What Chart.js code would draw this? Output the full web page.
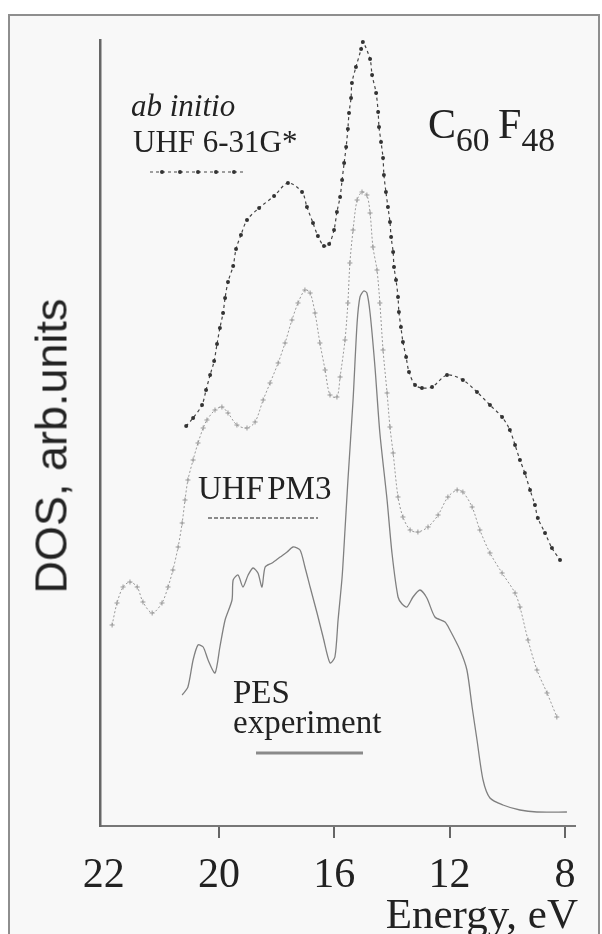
<!DOCTYPE html>
<html>
<head>
<meta charset="utf-8">
<script src="https://cdn.jsdelivr.net/npm/chart.js@4.4.0/dist/chart.umd.min.js"></script>
<style>
  body { margin: 0; background: #fff; width: 602px; height: 934px; overflow: hidden; position: relative; }
  #frame { position: absolute; left: 8px; top: 14px; width: 588px; height: 940px;
           border: 2px solid #8e8e8e; background: #f8f8f8; }
  #chart { position: absolute; left: 0; top: 0; }
  .lbl { position: absolute; font-family: "Liberation Serif", "Times New Roman", serif;
         color: #222; line-height: 1; white-space: nowrap; }
  .lbl sub { font-size: 0.8em; vertical-align: -0.38em; }
  .ytitle { position: absolute; left: 51px; top: 446px; transform: translate(-50%, -50%) rotate(-90deg);
            font-family: "Liberation Sans", Arial, sans-serif; font-size: 45px; color: #222;
            line-height: 1; white-space: nowrap; }
  .sample { position: absolute; }
</style>
</head>
<body>
<div id="frame"></div>
<canvas id="chart" width="602" height="934"></canvas>

<div class="ytitle">DOS, arb.units</div>
<div class="lbl" style="right:24px; top:892px; font-size:43px;">Energy, eV</div>

<div class="lbl" style="left:131px; top:90px; font-size:31px; font-style:italic;">ab initio</div>
<div class="lbl" style="left:133px; top:126px; font-size:31px;">UHF 6-31G*</div>
<svg class="sample" style="left:150px; top:168px;" width="96" height="8">
  <line x1="0" y1="4" x2="96" y2="4" stroke="#444" stroke-width="1.2" stroke-dasharray="3,3"/>
  <circle cx="12" cy="4" r="2" fill="#333"/><circle cx="30" cy="4" r="2" fill="#333"/>
  <circle cx="48" cy="4" r="2" fill="#333"/><circle cx="66" cy="4" r="2" fill="#333"/>
  <circle cx="84" cy="4" r="2" fill="#333"/>
</svg>
<div class="lbl" style="left:428px; top:103px; font-size:42px;">C<sub>60</sub>&thinsp;F<sub>48</sub></div>

<div class="lbl" style="left:198px; top:472px; font-size:33px; word-spacing:-5px;">UHF PM3</div>
<svg class="sample" style="left:208px; top:515px;" width="110" height="6">
  <line x1="0" y1="3" x2="110" y2="3" stroke="#8a8a8a" stroke-width="2" stroke-dasharray="4,2"/>
</svg>

<div class="lbl" style="left:233px; top:677px; font-size:33px; line-height:30px;">PES<br>experiment</div>
<svg class="sample" style="left:256px; top:750px;" width="107" height="6">
  <line x1="0" y1="3" x2="107" y2="3" stroke="#8a8a8a" stroke-width="3.2"/>
</svg>

<script>
// energies in eV, DOS in arbitrary units
const abInitioE = [21.14, 20.90, 20.59, 20.45, 20.31, 20.17, 20.07, 19.97, 19.86, 19.79, 19.69, 19.51, 19.41, 19.24, 19.03,
  18.61, 18.09, 17.61, 17.12, 16.95, 16.74, 16.57, 16.36, 16.18, 16.01, 15.91, 15.80, 15.73, 15.66, 15.59, 15.53, 15.49,
  15.42, 15.39, 15.25, 15.07, 15.01, 14.76, 14.69, 14.55, 14.48, 14.45, 14.38, 14.31, 14.28, 14.21, 14.14, 14.07, 14.03,
  13.96, 13.93, 13.86, 13.79, 13.76, 13.69, 13.62, 13.51, 13.41, 13.20, 12.96, 12.61, 12.09, 11.54, 11.05, 10.60, 10.18,
  9.91, 9.73, 9.56, 9.39, 9.21, 9.04, 8.94, 8.69, 8.45, 8.17];
const abInitioDos = [400, 408, 421, 436, 451, 465, 482, 498, 513, 528, 544, 560, 577, 591, 606,
  618, 630, 643, 634, 619, 603, 590, 580, 582, 596, 614, 629, 646, 663, 679, 697, 713,
  728, 743, 759, 777, 784, 767, 751, 733, 714, 699, 684, 668, 651, 634, 619, 604, 589,
  574, 559, 546, 529, 514, 499, 484, 469, 454, 441, 438, 439, 451, 446, 434, 421, 409,
  396, 381, 366, 353, 336, 321, 308, 293, 278, 266];

const pm3E = [23.71, 23.54, 23.33, 23.09, 22.84, 22.64, 22.32, 21.98, 21.77, 21.60, 21.42, 21.28, 21.18, 21.08, 20.90,
  20.73, 20.55, 20.42, 20.14, 19.90, 19.69, 19.38, 19.03, 18.75, 18.47, 18.23, 17.95, 17.71, 17.47, 17.26, 17.02,
  16.84, 16.67, 16.50, 16.32, 16.15, 15.91, 15.80, 15.63, 15.53, 15.46, 15.35, 15.21, 15.04, 14.87, 14.76, 14.66,
  14.52, 14.42, 14.31, 14.17, 14.07, 13.96, 13.79, 13.62, 13.37, 13.10, 12.75, 12.40, 12.06, 11.74, 11.54, 11.22,
  10.95, 10.60, 10.18, 9.73, 9.56, 9.28, 8.97, 8.62, 8.28];
const pm3Dos = [201, 223, 239, 244, 239, 224, 213, 223, 239, 256, 279, 303, 326, 346, 366,
  383, 398, 406, 416, 419, 413, 401, 398, 404, 426, 443, 463, 483, 506, 523, 536,
  533, 513, 483, 456, 431, 429, 449, 486, 523, 563, 596, 626, 634, 631, 613, 579,
  556, 523, 476, 433, 399, 373, 329, 309, 296, 294, 299, 311, 329, 336, 334, 319,
  296, 273, 253, 233, 219, 186, 156, 133, 109];

const pesE = [21.28, 21.08, 20.90, 20.73, 20.55, 20.38, 20.14, 19.97, 19.79, 19.55, 19.51, 19.34, 19.17, 18.99, 18.82,
  18.65, 18.51, 18.40, 18.16, 17.88, 17.64, 17.43, 17.19, 17.02, 16.84, 16.60, 16.39, 16.15, 15.98, 15.87, 15.73,
  15.63, 15.53, 15.35, 15.21, 15.11, 14.98, 14.87, 14.76, 14.59, 14.42, 14.17, 14.00, 13.79, 13.65, 13.48, 13.27,
  13.03, 12.79, 12.51, 12.16, 11.99, 11.64, 11.40, 11.22, 11.05, 10.84, 10.60, 10.15, 9.56, 8.97, 7.93];
const pesDos = [131, 139, 166, 181, 179, 166, 153, 179, 206, 226, 246, 251, 239, 251, 258,
  253, 239, 259, 263, 269, 274, 279, 276, 259, 239, 213, 189, 163, 169, 206, 249,
  296, 345, 426, 503, 529, 535, 533, 513, 459, 393, 326, 273, 229, 222, 219, 229,
  236, 228, 209, 204, 196, 176, 156, 119, 86, 46, 28, 21, 16, 14, 14];

const tickValues = [24, 20, 16, 12, 8];
const tickLabels = ["22", "20", "16", "12", "8"];

function pts(xs, ys) {
  return xs.map((x, i) => ({ x: x, y: ys[i] }));
}

new Chart(document.getElementById("chart"), {
  type: "line",
  data: {
    datasets: [{
      label: "ab initio UHF 6-31G*",
      data: pts(abInitioE, abInitioDos),
      borderColor: "#444",
      borderWidth: 1.2,
      borderDash: [3, 3],
      pointRadius: 2,
      pointBackgroundColor: "#333",
      pointBorderWidth: 0,
      tension: 0.3
    }, {
      label: "UHF PM3",
      data: pts(pm3E, pm3Dos),
      borderColor: "#999",
      borderWidth: 1,
      borderDash: [2, 2],
      pointStyle: "cross",
      pointRadius: 2.5,
      pointBorderColor: "#999",
      pointBorderWidth: 1,
      tension: 0.3
    }, {
      label: "PES experiment",
      data: pts(pesE, pesDos),
      borderColor: "#808080",
      borderWidth: 1.3,
      pointRadius: 0,
      tension: 0.25
    }]
  },
  options: {
    responsive: false,
    animation: false,
    layout: { padding: { left: 0, right: 27, top: 40, bottom: 0 } },
    plugins: { legend: { display: false }, tooltip: { enabled: false } },
    scales: {
      x: {
        type: "linear",
        reverse: true,
        min: 7.65,
        max: 24.13,
        afterBuildTicks: (scale) => { scale.ticks = tickValues.map(v => ({ value: v })); },
        afterFit: (scale) => { scale.height = 108; },
        ticks: {
          padding: 17,
          color: "#222",
          font: { family: "'Liberation Serif', serif", size: 42, lineHeight: 1 },
          maxRotation: 0,
          autoSkip: false,
          callback: (value) => tickLabels[tickValues.indexOf(value)]
        },
        grid: {
          display: true,
          drawOnChartArea: false,
          drawTicks: true,
          tickLength: 12,
          lineWidth: 2,
          color: (ctx) => (ctx.tick && ctx.tick.value === 24) ? "rgba(0,0,0,0)" : "#666"
        },
        border: { display: true, color: "#777", width: 2 }
      },
      y: {
        min: 0,
        max: 786,
        afterFit: (scale) => { scale.width = 100; },
        ticks: { display: false },
        grid: { display: false },
        border: { display: true, color: "#666", width: 2.5 }
      }
    }
  }
});
</script>
</body>
</html>
